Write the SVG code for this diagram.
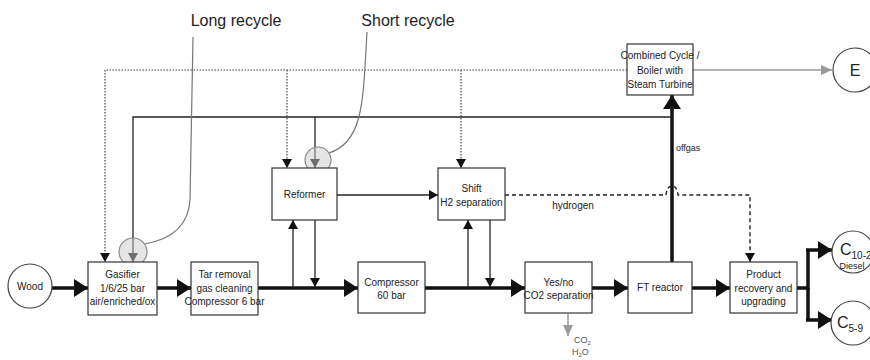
<svg xmlns="http://www.w3.org/2000/svg" width="870" height="360" viewBox="0 0 870 360">
<style>
.box{fill:#fff;stroke:#333;stroke-width:1.2}
.t{font-family:"Liberation Sans",Arial,sans-serif;font-size:10px;fill:#222;text-anchor:middle}
.lbl{font-family:"Liberation Sans",Arial,sans-serif;font-size:16px;fill:#222;text-anchor:middle}
.main{stroke:#111;stroke-width:3.5;fill:none}
.thin{stroke:#222;stroke-width:1.3;fill:none}
.dot{stroke:#444;stroke-width:1.2;stroke-dasharray:1.5 1.5;fill:none}
.dash{stroke:#222;stroke-width:1.4;stroke-dasharray:4 3;fill:none}
.gray{stroke:#999;stroke-width:1.5;fill:none}
.hl{fill:#ccc;fill-opacity:0.5;stroke:#888;stroke-width:1.2}
.call{stroke:#777;stroke-width:1.2;fill:none}
.circ{fill:#fff;stroke:#444;stroke-width:1.2}
</style>
<defs>
<marker id="big" markerUnits="userSpaceOnUse" markerWidth="16" markerHeight="18" refX="14" refY="9" orient="auto"><path d="M0,0 L14,9 L0,18 Z" fill="#111"/></marker>
<marker id="sm" markerUnits="userSpaceOnUse" markerWidth="10" markerHeight="10" refX="9" refY="5" orient="auto"><path d="M0,0 L9,5 L0,10 Z" fill="#111"/></marker>
<marker id="gr" markerUnits="userSpaceOnUse" markerWidth="12" markerHeight="10" refX="11" refY="5" orient="auto"><path d="M0,0 L11,5 L0,10 Z" fill="#999"/></marker>
</defs>

<g id="connectors">
<!-- main flow -->
<line class="main" x1="52" y1="288" x2="88" y2="288" marker-end="url(#big)"/>
<line class="main" x1="157" y1="288" x2="191" y2="288" marker-end="url(#big)"/>
<line class="main" x1="258" y1="288" x2="358" y2="288" marker-end="url(#big)"/>
<line class="main" x1="425" y1="288" x2="525" y2="288" marker-end="url(#big)"/>
<line class="main" x1="592" y1="288" x2="628" y2="288" marker-end="url(#big)"/>
<line class="main" x1="692" y1="288" x2="730" y2="288" marker-end="url(#big)"/>
<path class="main" d="M797,288 H808 V250"/>
<path class="main" d="M808,288 V320"/>
<line class="main" x1="806" y1="250" x2="832" y2="250" marker-end="url(#big)"/>
<line class="main" x1="806" y1="320" x2="832" y2="320" marker-end="url(#big)"/>
<line class="main" x1="672" y1="262" x2="672" y2="95" marker-end="url(#big)"/>
<!-- reformer / shift loops -->
<line class="thin" x1="293" y1="288" x2="293" y2="220" marker-end="url(#sm)"/>
<line class="thin" x1="315" y1="220" x2="315" y2="287" marker-end="url(#sm)"/>
<line class="thin" x1="468" y1="288" x2="468" y2="220" marker-end="url(#sm)"/>
<line class="thin" x1="490" y1="220" x2="490" y2="287" marker-end="url(#sm)"/>
<line class="thin" x1="337" y1="195" x2="438" y2="195" marker-end="url(#sm)"/>
<!-- solid recycle -->
<path class="thin" d="M672,117 H133 V262" marker-end="url(#sm)"/>
<path class="thin" d="M315,117 V168" marker-end="url(#sm)"/>
<!-- dotted recycle -->
<path class="dot" d="M627,70 H105 V262" marker-end="url(#sm)"/>
<path class="dot" d="M287,70 V168" marker-end="url(#sm)"/>
<path class="dot" d="M461,70 V168" marker-end="url(#sm)"/>
<!-- hydrogen -->
<path class="dash" d="M505,195 H666 Q667,186 672,186 Q677,186 678,195 H750 V262" marker-end="url(#sm)"/>
<!-- electricity -->
<line class="gray" x1="693" y1="70" x2="832" y2="70" marker-end="url(#gr)"/>
<!-- CO2 -->
<line class="gray" x1="568" y1="314" x2="568" y2="336" marker-end="url(#gr)"/>
</g>

<g id="highlights">
<circle class="hl" cx="133" cy="252" r="14"/>
<circle class="hl" cx="318" cy="160" r="13"/>
<path class="call" d="M193,37 L190,200 Q188,236 145,244"/>
<path class="call" d="M367,32 C363,100 364,142 329,153"/>
</g>

<g id="wood"><circle class="circ" cx="30" cy="286" r="22"/><text class="t" x="30" y="290">Wood</text></g>
<g id="gasifier"><rect class="box" x="88" y="262" width="69" height="53"/>
<text class="t" x="122.5" y="278">Gasifier</text><text class="t" x="122.5" y="292">1/6/25 bar</text><text class="t" x="122.5" y="305">air/enriched/ox</text></g>
<g id="tar"><rect class="box" x="191" y="262" width="67" height="53"/>
<text class="t" x="224.5" y="278">Tar removal</text><text class="t" x="224.5" y="292">gas cleaning</text><text class="t" x="224.5" y="305">Compressor 6 bar</text></g>
<g id="compressor"><rect class="box" x="358" y="262" width="67" height="51"/>
<text class="t" x="391.5" y="286">Compressor</text><text class="t" x="391.5" y="299">60 bar</text></g>
<g id="yesno"><rect class="box" x="525" y="262" width="67" height="51"/>
<text class="t" x="558.5" y="286">Yes/no</text><text class="t" x="558.5" y="299">CO2 separation</text></g>
<g id="ft"><rect class="box" x="628" y="262" width="64" height="51"/><text class="t" x="660" y="291">FT reactor</text></g>
<g id="product"><rect class="box" x="730" y="262" width="67" height="51"/>
<text class="t" x="763.5" y="278">Product</text><text class="t" x="763.5" y="292">recovery and</text><text class="t" x="763.5" y="305">upgrading</text></g>
<g id="reformer"><rect class="box" x="272" y="168" width="65" height="52"/><text class="t" x="304.5" y="198">Reformer</text></g>
<g id="shift"><rect class="box" x="438" y="168" width="67" height="52"/>
<text class="t" x="471.5" y="192">Shift</text><text class="t" x="471.5" y="206">H2 separation</text></g>
<g id="combined"><rect class="box" x="627" y="44" width="66" height="51"/>
<text class="t" x="660" y="59">Combined Cycle /</text><text class="t" x="660" y="74">Boiler with</text><text class="t" x="660" y="88">Steam Turbine</text></g>
<g id="e"><circle class="circ" cx="855" cy="70" r="22"/><text class="t" x="855" y="76" style="font-size:16px">E</text></g>
<g id="diesel"><circle class="circ" cx="853" cy="252" r="21"/>
<text class="t" x="840" y="255" style="font-size:16px;text-anchor:start">C<tspan dy="4" style="font-size:10px">10-2</tspan></text>
<text class="t" x="852" y="269" style="font-size:9px">Diesel</text></g>
<g id="c59"><circle class="circ" cx="853" cy="323" r="22"/>
<text class="t" x="837" y="328" style="font-size:16px;text-anchor:start">C<tspan dy="4" style="font-size:10px">5-9</tspan></text></g>

<g id="labels">
<text class="lbl" x="236" y="26">Long recycle</text>
<text class="lbl" x="408" y="26">Short recycle</text>
<text class="t" x="676" y="151" style="text-anchor:start;font-size:9px">offgas</text>
<text class="t" x="573" y="209">hydrogen</text>
<text class="t" x="574" y="343" style="text-anchor:start;fill:#555;font-size:9px">CO<tspan dy="2" style="font-size:6px">2</tspan></text>
<text class="t" x="572" y="355" style="text-anchor:start;fill:#555;font-size:9px">H<tspan dy="2" style="font-size:6px">2</tspan><tspan dy="-2">O</tspan></text>
</g>
</svg>
